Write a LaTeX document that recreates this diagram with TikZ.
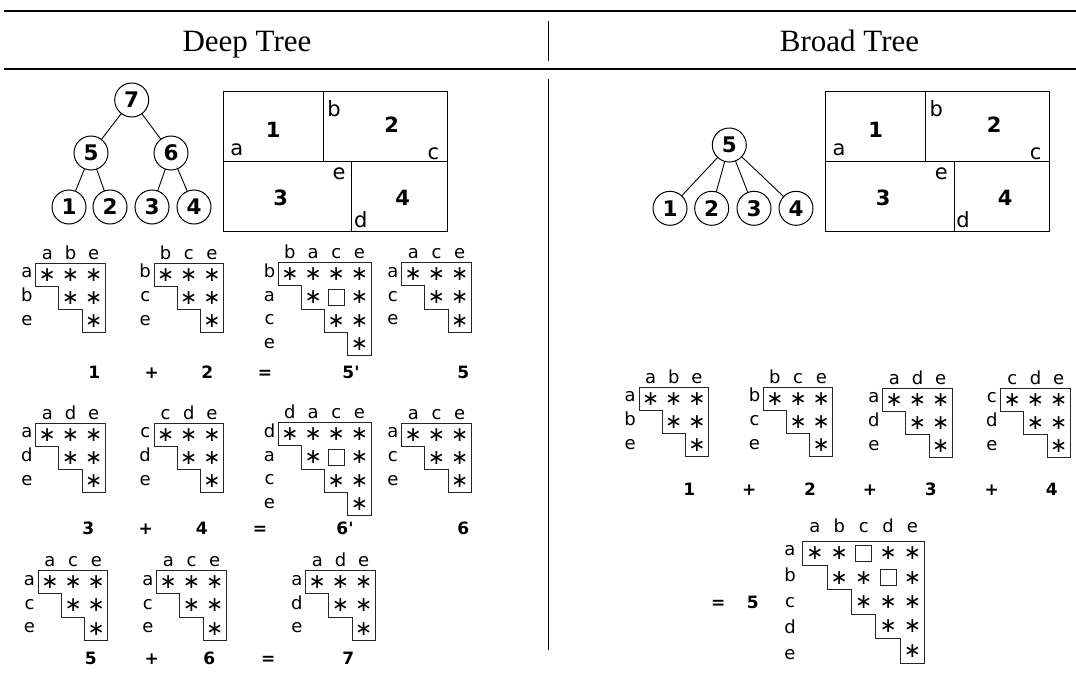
\documentclass[tikz,border=0pt]{standalone}
\usepackage{fontspec}
\setmainfont{Liberation Serif}
\newfontfamily\dvs{DejaVu Sans}
\tikzset{
  every node/.style={inner sep=0pt, outer sep=0pt},
  hdr/.style={font=\fontsize{31}{35}\selectfont, anchor=base},
  toprule/.style={line width=2.4pt},
  midrule/.style={line width=1.5pt},
  divline/.style={line width=0.9pt},
  tnode/.style={circle, draw, line width=1pt, minimum size=34pt,
    font=\dvs\bfseries\fontsize{21.5}{24}\selectfont},
  tedge/.style={line width=0.9pt},
  part/.style={line width=1.2pt},
  pnum/.style={font=\dvs\bfseries\fontsize{21}{24}\selectfont},
  plet/.style={font=\dvs\fontsize{21}{24}\selectfont},
  mlab/.style={font=\dvs\fontsize{18}{20}\selectfont, anchor=base},
  mstar/.style={font=\dvs\fontsize{20.5}{22}\selectfont},
  mline/.style={line width=1pt, draw=black!85},
  hole/.style={draw=black!85, line width=1pt, fill=white, minimum size=16pt},
  capt/.style={font=\dvs\bfseries\fontsize{17}{20}\selectfont, anchor=base},
}
% upper-triangular pattern: name, left, top, size, column labels, row labels
\newcommand\umat[6]{%
  \draw[mline] (#2,#3) -- ++({#4*\mcell},0) -- ++(0,{#4*\mcell})
    \foreach \k in {2,...,#4}{ -- ++(-\mcell,0) -- ++(0,-\mcell)} -- ++(-\mcell,0) -- cycle;
  \foreach \l [count=\j] in {#5}
    \node[mlab] (#1c\j) at ({#2+(\j-0.5)*\mcell},{#3-\mcg}) {\l};
  \foreach \l [count=\i] in {#6}
    \node[mlab] (#1r\i) at ({#2-\mrg},{#3+\mrb+(\i-1)*\mrs}) {\l};
  \foreach \i in {1,...,#4}{
    \foreach \j in {\i,...,#4}{
      \node[mstar] (#1s\i\j) at ({#2+(\j-0.5)*\mcell},{#3+(\i-0.5)*\mcell}) {∗};}}%
}
% empty entry: left, top, row, column
\newcommand\umhole[4]{%
  \node[hole] at ({#1+(#4-0.5)*\mcell},{#2+(#3-0.5)*\mcell}) {};}
% partitioned domain: name, left, top
\newcommand\partbox[3]{%
  \draw[part] (#2,#3) rectangle ++(224,140);
  \draw[part] (#2,{#3+70}) -- ++(224,0);
  \draw[part] ({#2+100},#3) -- ++(0,70);
  \draw[part] ({#2+128.4},{#3+70}) -- ++(0,70);
  \node[pnum] (#1n1) at ({#2+50},{#3+38.3}) {1};
  \node[pnum] (#1n2) at ({#2+168.4},{#3+32.6}) {2};
  \node[pnum] (#1n3) at ({#2+57.4},{#3+106.6}) {3};
  \node[pnum] (#1n4) at ({#2+179.4},{#3+106.6}) {4};
  \node[plet] (#1a) at ({#2+13.4},{#3+58.3}) {a};
  \node[plet] (#1b) at ({#2+110.7},{#3+17.3}) {b};
  \node[plet] (#1c) at ({#2+210},{#3+61.6}) {c};
  \node[plet] (#1e) at ({#2+115.7},{#3+81.6}) {e};
  \node[plet] (#1d) at ({#2+137.4},{#3+128.3}) {d};
}
\begin{document}
\begin{tikzpicture}[x=1pt,y=-1pt]
\useasboundingbox (0,0) rectangle (1076,677);

% table rules and column divider
\draw[toprule] (4,11) -- (1076,11);
\draw[midrule] (4,69) -- (1076,69);
\draw[divline] (548.5,21) -- (548.5,61);
\draw[divline] (548.5,79) -- (548.5,650);

\node[hdr] (hdeep) at (247,51.5) {Deep Tree};
\node[hdr] (hbroad) at (849.5,51.5) {Broad Tree};

% ---------------- deep tree ----------------
\node[tnode] (d7) at (131.7,100) {7};
\node[tnode] (d5) at (91,153) {5};
\node[tnode] (d6) at (171,153) {6};
\node[tnode] (d1) at (69,207) {1};
\node[tnode] (d2) at (110,207) {2};
\node[tnode] (d3) at (152,207) {3};
\node[tnode] (d4) at (194,207) {4};
\draw[tedge] (d7) -- (d5);
\draw[tedge] (d7) -- (d6);
\draw[tedge] (d5) -- (d1);
\draw[tedge] (d5) -- (d2);
\draw[tedge] (d6) -- (d3);
\draw[tedge] (d6) -- (d4);

\partbox{dp}{223.3}{91.7}

\def\mcell{23.2}\def\mcg{4.3}\def\mrg{8.8}\def\mrb{14.5}\def\mrs{23.8}
% first merge level
\umat{pa}{35.7}{263.3}{3}{a,b,e}{a,b,e}
\umat{pb}{154}{263.3}{3}{b,c,e}{b,c,e}
\umat{pc}{278.3}{262.7}{4}{b,a,c,e}{b,a,c,e}
\umhole{278.3}{262.7}{2}{3}
\umat{pd}{401.7}{262.7}{3}{a,c,e}{a,c,e}
\node[capt] (ka1) at (94.3,378.5) {1};
\node[capt] (ka2) at (151.7,378.5) {+};
\node[capt] (ka3) at (207.3,378.5) {2};
\node[capt] (ka4) at (265,378.5) {=};
\node[capt] (ka5) at (351,378.5) {5'};
\node[capt] (ka6) at (463.3,378.5) {5};

\umat{qa}{35.7}{423.3}{3}{a,d,e}{a,d,e}
\umat{qb}{154}{423.3}{3}{c,d,e}{c,d,e}
\umat{qc}{278.3}{422.7}{4}{d,a,c,e}{d,a,c,e}
\umhole{278.3}{422.7}{2}{3}
\umat{qd}{401.7}{423.3}{3}{a,c,e}{a,c,e}
\node[capt] (kb1) at (88.3,534) {3};
\node[capt] (kb2) at (145.7,534) {+};
\node[capt] (kb3) at (201.7,534) {4};
\node[capt] (kb4) at (260,534) {=};
\node[capt] (kb5) at (345,534) {6'};
\node[capt] (kb6) at (463.3,534) {6};

% root merge
\umat{ra}{38.3}{570.7}{3}{a,c,e}{a,c,e}
\umat{rb}{156.7}{570.7}{3}{a,c,e}{a,c,e}
\umat{rc}{305.7}{570.7}{3}{a,d,e}{a,d,e}
\node[capt] (kc1) at (90.7,664) {5};
\node[capt] (kc2) at (151.7,664) {+};
\node[capt] (kc3) at (209.3,664) {6};
\node[capt] (kc4) at (268.3,664) {=};
\node[capt] (kc5) at (348.3,664) {7};

% ---------------- broad tree ----------------
\node[tnode] (b5) at (729.3,145) {5};
\node[tnode] (b1) at (670,208.3) {1};
\node[tnode] (b2) at (711.7,208.3) {2};
\node[tnode] (b3) at (754,208.3) {3};
\node[tnode] (b4) at (796,208.3) {4};
\draw[tedge] (b5) -- (b1);
\draw[tedge] (b5) -- (b2);
\draw[tedge] (b5) -- (b3);
\draw[tedge] (b5) -- (b4);

\partbox{bp}{825.7}{91.7}

\umat{sa}{639}{387.3}{3}{a,b,e}{a,b,e}
\umat{sb}{763.3}{387.3}{3}{b,c,e}{b,c,e}
\umat{sc}{882.7}{388.3}{3}{a,d,e}{a,d,e}
\umat{sd}{1000.7}{388.3}{3}{c,d,e}{c,d,e}
\node[capt] (ks1) at (689.3,495) {1};
\node[capt] (ks2) at (749.3,495) {+};
\node[capt] (ks3) at (810,495) {2};
\node[capt] (ks4) at (870,495) {+};
\node[capt] (ks5) at (930.7,495) {3};
\node[capt] (ks6) at (991.7,495) {+};
\node[capt] (ks7) at (1051.7,495) {4};

\def\mcell{24.4}\def\mcg{8.3}\def\mrg{12.7}\def\mrb{14}\def\mrs{26.2}
\umat{ta}{802.7}{541}{5}{a,b,c,d,e}{a,b,c,d,e}
\umhole{802.7}{541}{1}{3}
\umhole{802.7}{541}{2}{4}
\node[capt] (kt1) at (718.3,608.3) {=};
\node[capt] (kt2) at (752.7,608.3) {5};
\end{tikzpicture}
\end{document}
